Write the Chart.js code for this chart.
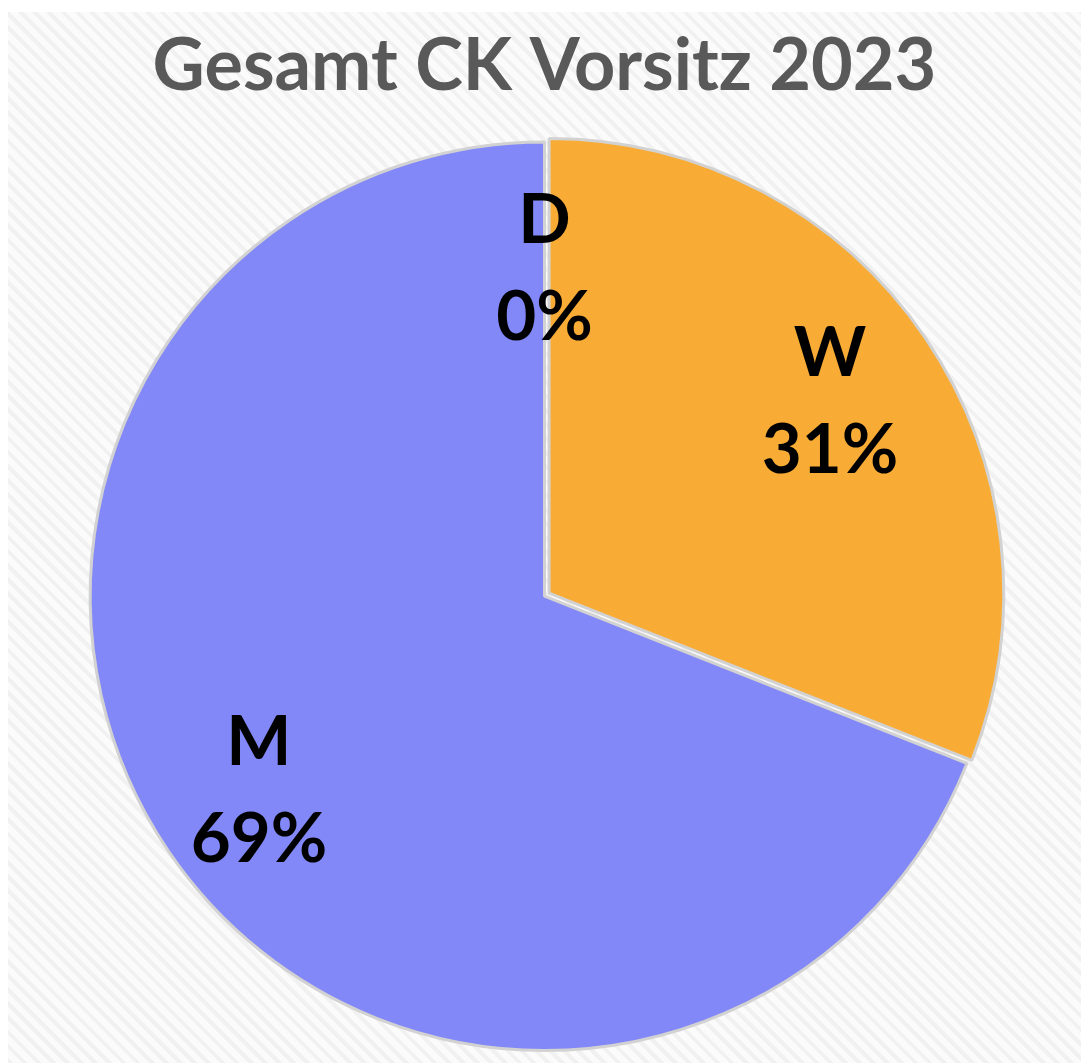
<!DOCTYPE html>
<html>
<head>
<meta charset="utf-8">
<script src="https://cdn.jsdelivr.net/npm/chart.js@4.4.0/dist/chart.umd.min.js"></script>
<style>
  html, body { margin: 0; padding: 0; background: #ffffff; }
  .panel {
    position: absolute; left: 8px; top: 12px; right: 0; bottom: 0;
    background: repeating-linear-gradient(45deg, #f1f1f1 0px, #f1f1f1 4px, #fbfbfb 4px, #fbfbfb 10px);
  }
  .wrap { position: absolute; left: 0; top: 0; width: 1081px; height: 1063px; }
</style>
</head>
<body>
<div class="panel"></div>
<div class="wrap"><canvas id="pieChart" width="1081" height="1063"></canvas></div>
<script>
const title = "Gesamt CK Vorsitz 2023";
const categories = ["D", "W", "M"];
const values = [0, 31, 69];
const sliceColors = ["#7f7f7f", "#f9ac35", "#8288f7"];
const sliceOffsets = [0, 22, 0];
const labelRadius = [0.72, 0.76, 0.76];

// draws "name" and "xx%" inside each slice
const sliceLabels = {
  id: "sliceLabels",
  afterDatasetsDraw(chart) {
    const ctx = chart.ctx;
    const meta = chart.getDatasetMeta(0);
    const total = values.reduce((a, b) => a + b, 0);
    ctx.save();
    ctx.fillStyle = "#000000";
    ctx.font = "bold 69px Lato";
    ctx.textAlign = "center";
    ctx.textBaseline = "middle";
    meta.data.forEach((arc, i) => {
      const p = arc.getProps(["x", "y", "startAngle", "endAngle", "outerRadius"], true);
      const mid = (p.startAngle + p.endAngle) / 2;
      const r = p.outerRadius * labelRadius[i];
      const x = p.x + Math.cos(mid) * r;
      const y = p.y + Math.sin(mid) * r;
      const pct = Math.round((values[i] / total) * 100) + "%";
      ctx.fillText(categories[i], x, y - 48);
      ctx.fillText(pct, x, y + 49);
    });
    ctx.restore();
  },
};

new Chart(document.getElementById("pieChart"), {
  type: "pie",
  data: {
    labels: categories,
    datasets: [
      {
        data: values,
        backgroundColor: sliceColors,
        borderColor: "#d2d2d2",
        borderWidth: 3,
        offset: sliceOffsets,
        hoverOffset: 0,
      },
    ],
  },
  options: {
    responsive: false,
    animation: false,
    events: [],
    layout: { padding: { left: 8, right: 0, top: 0, bottom: 0 } },
    plugins: {
      legend: { display: false },
      tooltip: { enabled: false },
      title: {
        display: true,
        text: title,
        color: "#595959",
        font: { family: "Lato", size: 72, weight: "bold", lineHeight: 1.2 },
        padding: { top: 24, bottom: 19 },
      },
    },
  },
  plugins: [sliceLabels],
});
</script>
</body>
</html>
